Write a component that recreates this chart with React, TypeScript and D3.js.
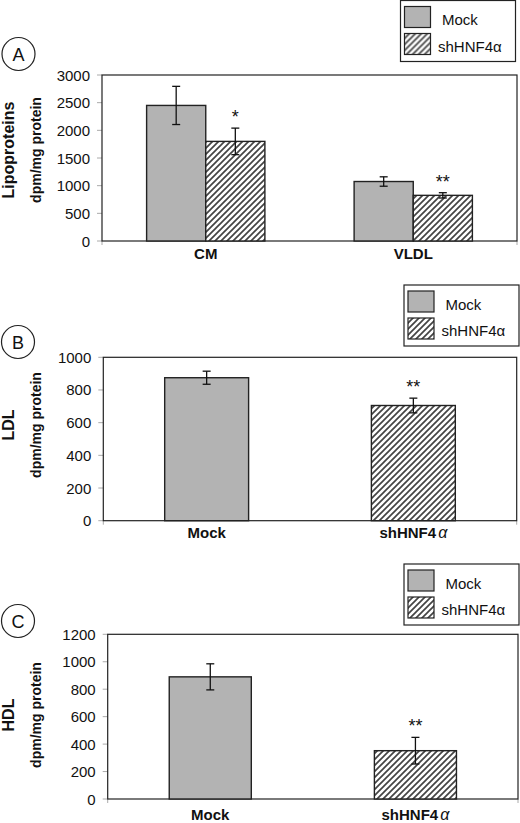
import React from "react";
import * as d3 from "d3";

// ---------- DATA ----------
const seriesNames = ["Mock", "shHNF4α"];

const lipoCategories = ["CM", "VLDL"];
const lipoMock = [2450, 1075];
const lipoMockErr = [345, 85];
const lipoSh = [1800, 825];
const lipoShErr = [240, 48];
const lipoSig = ["*", "**"];
const lipoTicks = [0, 500, 1000, 1500, 2000, 2500, 3000];

const ldlCategories = ["Mock", "shHNF4α"];
const ldlValues = [875, 705];
const ldlErr = [40, 45];
const ldlSig = ["", "**"];
const ldlTicks = [0, 200, 400, 600, 800, 1000];

const hdlCategories = ["Mock", "shHNF4α"];
const hdlValues = [890, 352];
const hdlErr = [95, 97];
const hdlSig = ["", "**"];
const hdlTicks = [0, 200, 400, 600, 800, 1000, 1200];

// ---------- STYLE ----------
const FONT = "'Liberation Sans', Arial, Helvetica, sans-serif";
const GRAY = "#b3b3b3";
const STROKE = "#222";

type BarSpec = { cat: string; series: number; value: number; err: number; sig: string };

type PanelProps = {
  letter: string;
  yLabel: string;
  categories: string[];
  bars: BarSpec[];
  grouped: boolean;
  ticks: number[];
  left: number;
  right: number;
  top: number;
  bottom: number;
  groupRatio: number;
  circle: [number, number];
  legend: [number, number];
  yLabelCenter: number;
  catBaseline: number;
};

function CatLabel({ text, x, y }: { text: string; x: number; y: number }) {
  const m = text.match(/^(.*?)(α)$/);
  return (
    <text x={x} y={y} textAnchor="middle" fontFamily={FONT} fontWeight="bold" fontSize={15} fill="#111">
      {m ? (
        <>
          {m[1]}
          <tspan dx={2} fontStyle="italic" fontWeight="normal" fontSize={16}>
            {m[2]}
          </tspan>
        </>
      ) : (
        text
      )}
    </text>
  );
}

function Legend({ x, y }: { x: number; y: number }) {
  return (
    <g transform={`translate(${x},${y})`}>
      <rect x={0} y={0} width={115} height={61} fill="#fff" stroke={STROKE} strokeWidth={1.2} />
      <rect x={4} y={6} width={26} height={21} fill={GRAY} stroke={STROKE} strokeWidth={1.2} />
      <rect x={4} y={33} width={26} height={21} fill="url(#hatch)" stroke={STROKE} strokeWidth={1.2} />
      <text x={41.5} y={24.5} fontFamily={FONT} fontSize={15} fill="#111">
        {seriesNames[0]}
      </text>
      <text x={37.5} y={51} fontFamily={FONT} fontSize={15} fill="#111">
        {seriesNames[1]}
      </text>
    </g>
  );
}

function Panel(p: PanelProps) {
  const y = d3.scaleLinear().domain([p.ticks[0], p.ticks[p.ticks.length - 1]]).range([p.bottom, p.top]);
  const x = d3.scaleBand<string>().domain(p.categories).range([p.left, p.right]).padding(0);
  const groupW = x.bandwidth() * p.groupRatio;
  const inner = d3
    .scaleBand<number>()
    .domain(p.grouped ? [0, 1] : [0])
    .range([0, groupW])
    .padding(0);

  const barX = (b: BarSpec) =>
    (x(b.cat) as number) + x.bandwidth() / 2 - groupW / 2 + (p.grouped ? (inner(b.series) as number) : 0);
  const bw = inner.bandwidth();

  return (
    <g>
      {/* panel letter */}
      <circle cx={p.circle[0]} cy={p.circle[1]} r={16.5} fill="#fff" stroke={STROKE} strokeWidth={1.2} />
      <text
        x={p.circle[0]}
        y={p.circle[1] + 6.5}
        textAnchor="middle"
        fontFamily={FONT}
        fontSize={18}
        fill="#111"
      >
        {p.letter}
      </text>

      <Legend x={p.legend[0]} y={p.legend[1]} />

      {/* y label */}
      <text
        transform={`translate(14,${p.yLabelCenter}) rotate(-90)`}
        textAnchor="middle"
        fontFamily={FONT}
        fontWeight="bold"
        fontSize={16}
        fill="#111"
      >
        {p.yLabel}
      </text>
      <text
        transform={`translate(41,${p.yLabelCenter}) rotate(-90)`}
        textAnchor="middle"
        fontFamily={FONT}
        fontWeight="bold"
        fontSize={14}
        fill="#111"
      >
        dpm/mg protein
      </text>

      {/* y ticks */}
      {p.ticks.map((t) => (
        <g key={t}>
          <line x1={p.left - 5} x2={p.left} y1={y(t)} y2={y(t)} stroke="#aaa" strokeWidth={1} />
          <text
            x={p.left - 12}
            y={y(t) + 5.5}
            textAnchor="end"
            fontFamily={FONT}
            fontSize={15}
            fill="#111"
          >
            {t}
          </text>
        </g>
      ))}
      {/* x boundary ticks */}
      {[p.left, p.right].map((v, i) => (
        <line key={i} x1={v} x2={v} y1={p.bottom} y2={p.bottom + 4} stroke="#aaa" strokeWidth={1} />
      ))}

      {/* plot frame */}
      <rect
        x={p.left}
        y={p.top}
        width={p.right - p.left}
        height={p.bottom - p.top}
        fill="none"
        stroke={STROKE}
        strokeWidth={1.2}
      />

      {/* bars */}
      {p.bars.map((b, i) => {
        const bx = barX(b);
        const cx = bx + bw / 2;
        const yTop = y(b.value + b.err);
        const yBot = y(b.value - b.err);
        return (
          <g key={i}>
            <rect
              x={bx}
              y={y(b.value)}
              width={bw}
              height={p.bottom - y(b.value)}
              fill={b.series === 0 ? GRAY : "url(#hatch)"}
              stroke={STROKE}
              strokeWidth={1.4}
            />
            <line x1={cx} x2={cx} y1={yTop} y2={yBot} stroke="#111" strokeWidth={1.3} />
            <line x1={cx - 4} x2={cx + 4} y1={yTop} y2={yTop} stroke="#111" strokeWidth={1.3} />
            <line x1={cx - 4} x2={cx + 4} y1={yBot} y2={yBot} stroke="#111" strokeWidth={1.3} />
            {b.sig && (
              <text
                x={cx}
                y={yTop - 5}
                textAnchor="middle"
                fontFamily={FONT}
                fontSize={18}
                fill="#111"
              >
                {b.sig}
              </text>
            )}
          </g>
        );
      })}

      {/* category labels */}
      {p.categories.map((c) => (
        <CatLabel key={c} text={c} x={(x(c) as number) + x.bandwidth() / 2} y={p.catBaseline} />
      ))}
    </g>
  );
}

export default function App() {
  const barsA: BarSpec[] = [];
  lipoCategories.forEach((c, i) => {
    barsA.push({ cat: c, series: 0, value: lipoMock[i], err: lipoMockErr[i], sig: "" });
    barsA.push({ cat: c, series: 1, value: lipoSh[i], err: lipoShErr[i], sig: lipoSig[i] });
  });
  const barsB: BarSpec[] = ldlCategories.map((c, i) => ({
    cat: c,
    series: i,
    value: ldlValues[i],
    err: ldlErr[i],
    sig: ldlSig[i],
  }));
  const barsC: BarSpec[] = hdlCategories.map((c, i) => ({
    cat: c,
    series: i,
    value: hdlValues[i],
    err: hdlErr[i],
    sig: hdlSig[i],
  }));

  return (
    <svg
      width={520}
      height={823}
      style={{ position: "absolute", left: 0, top: 0, background: "#fff" }}
    >
      <defs>
        <pattern id="hatch" patternUnits="userSpaceOnUse" width={6} height={6}>
          <rect width={6} height={6} fill="#fff" />
          <path d="M-1,1 l2,-2 M0,6 l6,-6 M5,7 l2,-2" stroke="#444" strokeWidth={1.7} />
        </pattern>
      </defs>
      <rect width={520} height={823} fill="#fff" />
      <Panel
        letter="A"
        yLabel="Lipoproteins"
        categories={lipoCategories}
        bars={barsA}
        grouped={true}
        ticks={lipoTicks}
        left={102}
        right={517}
        top={75}
        bottom={241}
        groupRatio={0.57}
        circle={[18.5, 54]}
        legend={[400.5, 0.5]}
        yLabelCenter={150}
        catBaseline={259}
      />
      <Panel
        letter="B"
        yLabel="LDL"
        categories={ldlCategories}
        bars={barsB}
        grouped={false}
        ticks={ldlTicks}
        left={103.3}
        right={516.7}
        top={357.3}
        bottom={520.7}
        groupRatio={0.406}
        circle={[18, 342]}
        legend={[404, 285]}
        yLabelCenter={425}
        catBaseline={538}
      />
      <Panel
        letter="C"
        yLabel="HDL"
        categories={hdlCategories}
        bars={barsC}
        grouped={false}
        ticks={hdlTicks}
        left={107.7}
        right={518}
        top={634.3}
        bottom={799}
        groupRatio={0.4}
        circle={[18, 621]}
        legend={[404, 564]}
        yLabelCenter={715}
        catBaseline={820}
      />
    </svg>
  );
}
